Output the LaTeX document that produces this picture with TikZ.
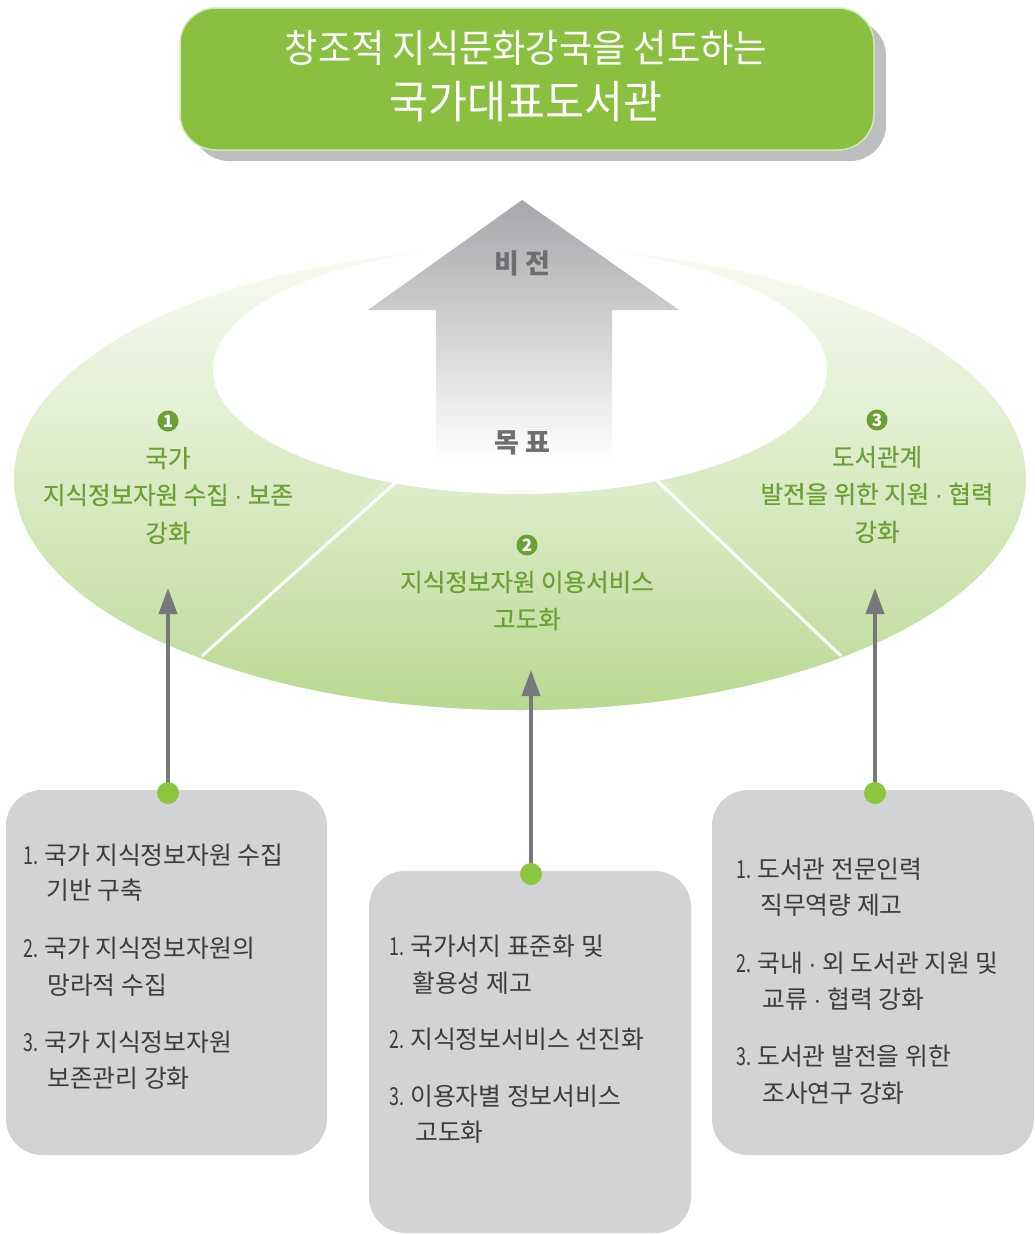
\documentclass[tikz,border=0pt]{standalone}
\usepackage{fontspec}
\usepackage{graphicx}
\setmainfont{Noto Sans CJK KR}
\newfontfamily\titlefont[FakeStretch=0.94]{Noto Sans CJK KR}
\newfontfamily\boxfont{Noto Sans CJK KR}
\newfontfamily\labelfont[FakeBold=0.5]{Noto Sans CJK KR}
\newfontfamily\dotfont{Liberation Sans}
\newcommand{\mdot}{{\dotfont ·}}
\newcommand{\itemno}[1]{\makebox[21pt][l]{\scalebox{0.72}[1]{#1}}}
\usetikzlibrary{arrows.meta}
\definecolor{titlegreen}{HTML}{8BBF40}
\definecolor{titleedge}{HTML}{D3E8B5}
\definecolor{shadowgray}{HTML}{BCBEC0}
\definecolor{labelgreen}{HTML}{6AA035}
\definecolor{dotgreen}{HTML}{8CC63F}
\definecolor{arrowgray}{HTML}{77787B}
\definecolor{boxgray}{HTML}{D1D3D4}
\definecolor{boxtext}{HTML}{3C3C3C}
\definecolor{visiongray}{HTML}{6D6E71}
\definecolor{ringtop}{HTML}{F8FBF3}
\definecolor{ringbot}{HTML}{BCDB97}
\definecolor{midbot}{HTML}{B6D88E}
\definecolor{arrowtop}{HTML}{A5A7AA}
\tikzset{
  graybox/.style={fill=boxgray, rounded corners=36pt},
  boxline/.style={anchor=west, inner sep=0pt, text=boxtext, font=\boxfont\fontsize{24.8}{28}\selectfont},
  glabel/.style={anchor=center, inner sep=0pt, text=labelgreen, font=\labelfont\fontsize{24.5}{28}\selectfont},
  bullet/.style={circle, fill=labelgreen, inner sep=0pt, minimum size=21pt, text=white, font=\bfseries\fontsize{17}{17}\selectfont},
  dot/.style={circle, fill=dotgreen, inner sep=0pt, minimum size=22pt},
  link/.style={draw=arrowgray, line width=4pt, -{Triangle[length=26pt,width=18pt]}},
  vision/.style={inner sep=0pt, text=visiongray, font=\bfseries\fontsize{27}{30}\selectfont}
}
\begin{document}
\begin{tikzpicture}[x=1pt,y=-1pt]
\useasboundingbox (0,0) rectangle (1035,1234);
% title
\fill[shadowgray, rounded corners=36pt] (193,20) rectangle (886,161);
\draw[fill=titlegreen, draw=titleedge, line width=1.5pt, rounded corners=36pt] (180,8) rectangle (874,150);
\node[inner sep=0pt, text=white, font=\titlefont\fontsize{38.5}{40}\selectfont] (t1) at (526,48) {창조적 지식문화강국을 선도하는};
\node[inner sep=0pt, text=white, font=\titlefont\fontsize{45}{48}\selectfont] (t2) at (526,102) {국가대표도서관};
% ring
\shade[top color=ringtop, bottom color=ringbot] (520,479) ellipse [x radius=506, y radius=231];
\begin{scope}
  \clip (520,479) ellipse [x radius=506, y radius=231];
  \shade[top color=ringtop!60!ringbot, bottom color=midbot] (395,470) -- (202,656) -- (202,720) -- (841,720) -- (841,656) -- (658,470) -- cycle;
  \draw[white, line width=3pt] (405,474) -- (202,656);
  \draw[white, line width=3pt] (648,472) -- (841,656);
\end{scope}
\fill[white] (520,370) ellipse [x radius=307, y radius=124];
% big arrow
\shade[top color=arrowtop, bottom color=white] (522,200) -- (679,310) -- (612,310) -- (612,462) -- (436,462) -- (436,310) -- (368,310) -- cycle;
\node[vision] (vis) at (522,263) {비 전};
\node[vision] (goal) at (522,443) {목 표};
% goal labels
\node[bullet] (b1) at (168,421) {1};
\node[glabel] (g1a) at (168,458) {국가};
\node[glabel] (g1b) at (168,495) {지식정보자원 수집 \mdot{} 보존};
\node[glabel] (g1c) at (168,533) {강화};
\node[bullet] (b2) at (527,545) {2};
\node[glabel] (g2a) at (527,582) {지식정보자원 이용서비스};
\node[glabel] (g2b) at (527,619) {고도화};
\node[bullet] (b3) at (877,420) {3};
\node[glabel] (g3a) at (877,457) {도서관계};
\node[glabel] (g3b) at (877,494) {발전을 위한 지원 \mdot{} 협력};
\node[glabel] (g3c) at (877,532) {강화};
% boxes
\fill[graybox] (6,790) rectangle (327,1155);
\fill[graybox] (369,871) rectangle (691,1233);
\fill[graybox] (712,790) rectangle (1034,1155);
\coordinate (tip1) at (168,588);
\coordinate (tip2) at (531,670);
\coordinate (tip3) at (875,588);
\draw[link] (168,793) -- (tip1);
\draw[link] (531,874) -- (tip2);
\draw[link] (875,793) -- (tip3);
\node[dot] (d1) at (168,793) {};
\node[dot] (d2) at (531,874) {};
\node[dot] (d3) at (875,793) {};
% left box text
\node[boxline] (l1a) at (23,855) {\itemno{1.}국가 지식정보자원 수집};
\node[boxline] (l1b) at (46,890) {기반 구축};
\node[boxline] (l2a) at (23,948) {\itemno{2.}국가 지식정보자원의};
\node[boxline] (l2b) at (47,985) {망라적 수집};
\node[boxline] (l3a) at (23,1042) {\itemno{3.}국가 지식정보자원};
\node[boxline] (l3b) at (47,1078) {보존관리 강화};
% middle box text
\node[boxline] (m1a) at (389,946) {\itemno{1.}국가서지 표준화 및};
\node[boxline] (m1b) at (412,983) {활용성 제고};
\node[boxline] (m2a) at (389,1039) {\itemno{2.}지식정보서비스 선진화};
\node[boxline] (m3a) at (389,1096) {\itemno{3.}이용자별 정보서비스};
\node[boxline] (m3b) at (415,1132) {고도화};
% right box text
\node[boxline] (r1a) at (736,869) {\itemno{1.}도서관 전문인력};
\node[boxline] (r1b) at (760,905) {직무역량 제고};
\node[boxline] (r2a) at (736,963) {\itemno{2.}국내 \mdot{} 외 도서관 지원 및};
\node[boxline] (r2b) at (762,999) {교류 \mdot{} 협력 강화};
\node[boxline] (r3a) at (736,1056) {\itemno{3.}도서관 발전을 위한};
\node[boxline] (r3b) at (762,1093) {조사연구 강화};
\end{tikzpicture}
\end{document}
